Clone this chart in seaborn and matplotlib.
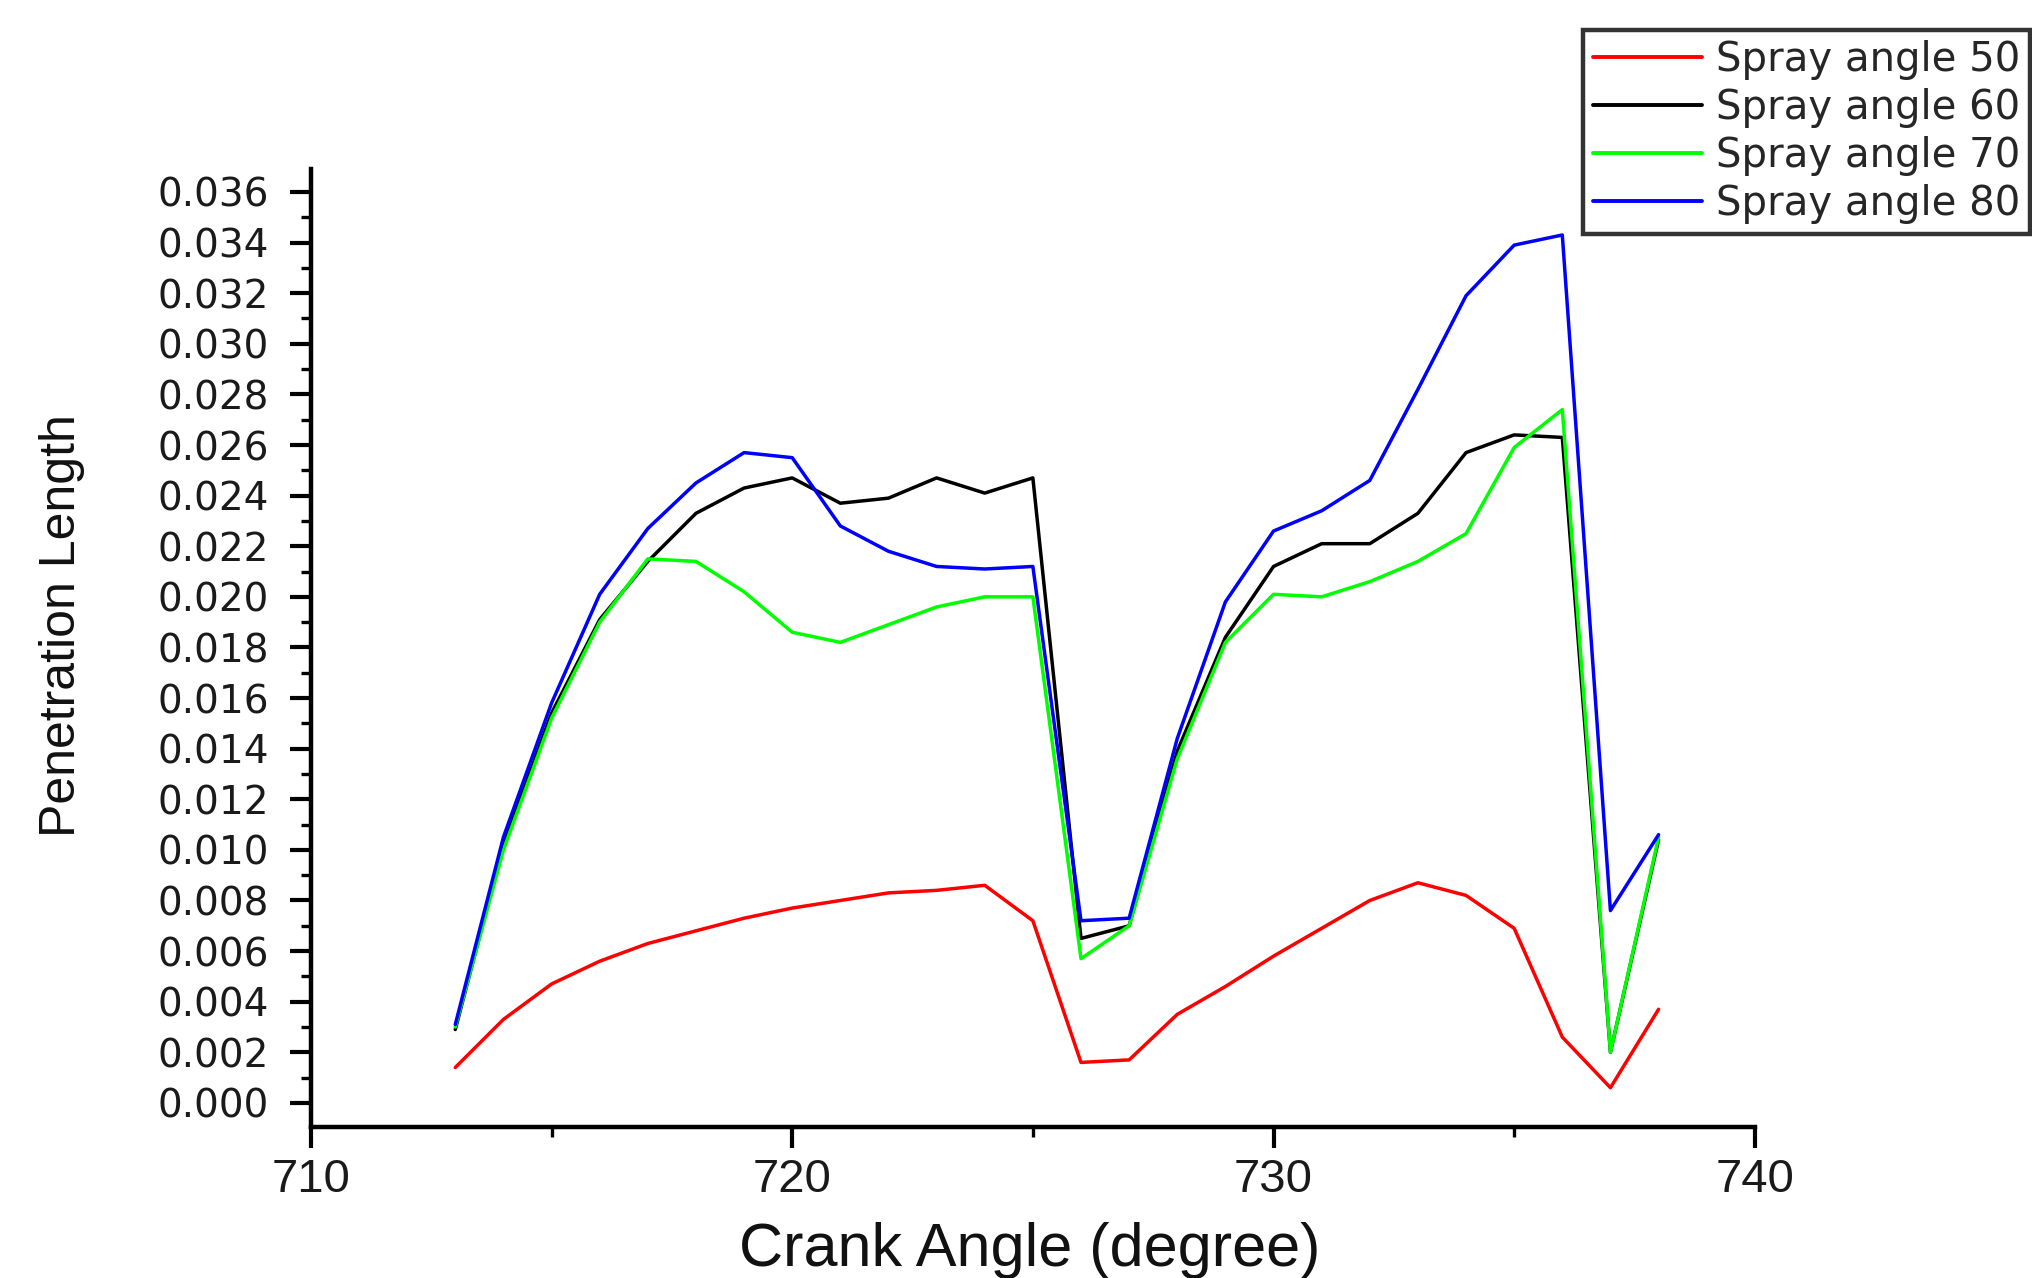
import matplotlib
matplotlib.use("Agg")
import matplotlib.pyplot as plt
import seaborn as sns
import pandas as pd
from matplotlib.ticker import MultipleLocator, FormatStrFormatter

# ---- data ----
crank_angle = list(range(713, 739))
spray_50 = [0.0014, 0.0033, 0.0047, 0.0056, 0.0063, 0.0068, 0.0073, 0.0077, 0.0080, 0.0083,
            0.0084, 0.0086, 0.0072, 0.0016, 0.0017, 0.0035, 0.0046, 0.0058, 0.0069, 0.0080,
            0.0087, 0.0082, 0.0069, 0.0026, 0.0006, 0.0037]
spray_60 = [0.0029, 0.0102, 0.0154, 0.0191, 0.0214, 0.0233, 0.0243, 0.0247, 0.0237, 0.0239,
            0.0247, 0.0241, 0.0247, 0.0065, 0.0070, 0.0139, 0.0184, 0.0212, 0.0221, 0.0221,
            0.0233, 0.0257, 0.0264, 0.0263, 0.0020, 0.0104]
spray_70 = [0.0030, 0.0100, 0.0152, 0.0190, 0.0215, 0.0214, 0.0202, 0.0186, 0.0182, 0.0189,
            0.0196, 0.0200, 0.0200, 0.0057, 0.0070, 0.0136, 0.0182, 0.0201, 0.0200, 0.0206,
            0.0214, 0.0225, 0.0259, 0.0274, 0.0020, 0.0105]
spray_80 = [0.0031, 0.0105, 0.0158, 0.0201, 0.0227, 0.0245, 0.0257, 0.0255, 0.0228, 0.0218,
            0.0212, 0.0211, 0.0212, 0.0072, 0.0073, 0.0144, 0.0198, 0.0226, 0.0234, 0.0246,
            0.0282, 0.0319, 0.0339, 0.0343, 0.0076, 0.0106]
series_names = ["Spray angle 50", "Spray angle 60", "Spray angle 70", "Spray angle 80"]
series_colors = ["#FF0000", "#000000", "#00FF00", "#0000FF"]

frames = []
for name, vals in zip(series_names, [spray_50, spray_60, spray_70, spray_80]):
    frames.append(pd.DataFrame({"Crank Angle": crank_angle, "Penetration": vals, "Series": name}))
df = pd.concat(frames, ignore_index=True)

sns.set_theme(style="white")
plt.rcParams["font.family"] = ["Liberation Sans", "DejaVu Sans"]

fig = plt.figure(figsize=(20.32, 12.78), dpi=100)
ax = fig.add_axes([0.153, 0.1178, 0.8636 - 0.153, 0.868 - 0.1178])

sns.lineplot(data=df, x="Crank Angle", y="Penetration", hue="Series",
             hue_order=series_names, palette=series_colors, estimator=None,
             linewidth=2.5, ax=ax)

ax.set_xlim(710, 740)
ax.set_ylim(-0.00097, 0.03692)
ax.xaxis.set_major_locator(MultipleLocator(10))
ax.xaxis.set_minor_locator(MultipleLocator(5))
ax.yaxis.set_major_locator(MultipleLocator(0.002))
ax.yaxis.set_minor_locator(MultipleLocator(0.001))
ax.yaxis.set_major_formatter(FormatStrFormatter("%.3f"))

for s in ["top", "right"]:
    ax.spines[s].set_visible(False)
for s in ["left", "bottom"]:
    ax.spines[s].set_visible(True)
    ax.spines[s].set_color("black")
    ax.spines[s].set_linewidth(3.2)

ax.tick_params(axis="both", which="major", direction="out", length=15, width=3.0,
               color="black", left=True, bottom=True)
ax.tick_params(axis="both", which="minor", direction="out", length=7, width=2.4,
               color="black", left=True, bottom=True)
ax.tick_params(axis="y", which="major", pad=15)
ax.tick_params(axis="x", which="major", pad=7)

for lab in ax.get_yticklabels():
    lab.set_fontfamily("DejaVu Sans")
    lab.set_fontsize(28)
    lab.set_color("#1a1a1a")
for lab in ax.get_xticklabels():
    lab.set_fontfamily("Liberation Sans")
    lab.set_fontsize(34)
    lab.set_color("#1a1a1a")

ax.set_xlabel("Crank Angle (degree)", fontsize=44, color="#111111", va="center")
ax.set_ylabel("Penetration Length", fontsize=36, color="#111111", va="center")
ax.xaxis.set_label_coords(0.498, -0.1288)
ax.yaxis.set_label_coords(-0.1725, 0.524)

handles, labels = ax.get_legend_handles_labels()
leg = ax.legend(handles, labels, loc="upper right", bbox_to_anchor=(0.999, 0.9765),
                bbox_transform=fig.transFigure, borderaxespad=0, frameon=True,
                fancybox=False, prop={"family": "DejaVu Sans", "size": 29},
                handlelength=2.7, handletextpad=0.35, labelspacing=0.2, borderpad=0.25)
leg.get_frame().set_edgecolor("black")
leg.get_frame().set_linewidth(3.2)
for line in leg.get_lines():
    line.set_linewidth(2.8)

fig.savefig("out.png", dpi=100, facecolor="white")
